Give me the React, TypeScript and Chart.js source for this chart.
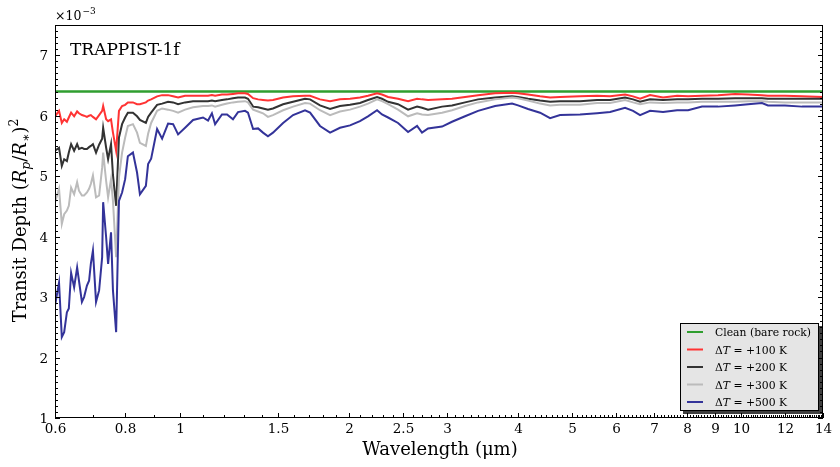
import React, { useEffect, useRef } from "react";
import { Chart, registerables } from "chart.js";

Chart.register(...registerables);

// Wavelength grid (µm)
const wavelength = [
  0.6, 0.61, 0.617, 0.623, 0.63, 0.635, 0.641, 0.649, 0.657, 0.662,
  0.67, 0.676, 0.684, 0.69, 0.695, 0.701, 0.71, 0.719, 0.728, 0.731,
  0.74, 0.746, 0.755, 0.761, 0.771, 0.78, 0.79, 0.8, 0.809, 0.826,
  0.84, 0.85, 0.871, 0.879, 0.89, 0.912, 0.931, 0.954, 0.974, 0.994,
  1.023, 1.057, 1.101, 1.124, 1.142, 1.157, 1.19, 1.215, 1.245, 1.271,
  1.308, 1.324, 1.352, 1.38, 1.408, 1.437, 1.467, 1.529, 1.593, 1.673,
  1.708, 1.779, 1.854, 1.931, 2.012, 2.096, 2.166, 2.248, 2.294, 2.352,
  2.45, 2.553, 2.649, 2.703, 2.771, 2.935, 3.057, 3.225, 3.402, 3.648,
  3.911, 4.008, 4.176, 4.387, 4.571, 4.762, 5.169, 5.542, 5.846, 6.217,
  6.424, 6.611, 6.888, 7.265, 7.695, 8.05, 8.525, 9.103, 9.761, 10.3,
  10.9, 11.17, 11.98, 12.85, 14.0,
];

// Transit depth, in units of 1e-3
const depth100K = [
  5.99, 6.08, 5.88, 5.94, 5.9, 5.97, 6.05, 5.99, 6.07, 6.04,
  6.01, 6.0, 5.98, 6.0, 6.01, 5.98, 5.94, 6.01, 6.08, 6.16,
  5.94, 5.91, 5.94, 5.72, 5.42, 6.08, 6.16, 6.18, 6.22, 6.22,
  6.19, 6.19, 6.22, 6.25, 6.27, 6.32, 6.34, 6.34, 6.32, 6.3,
  6.33, 6.33, 6.33, 6.33, 6.34, 6.33, 6.35, 6.35, 6.36, 6.37,
  6.37, 6.36, 6.29, 6.27, 6.26, 6.25, 6.26, 6.3, 6.32, 6.33,
  6.33, 6.27, 6.24, 6.27, 6.28, 6.3, 6.33, 6.37, 6.35, 6.31,
  6.28, 6.24, 6.28, 6.27, 6.26, 6.27, 6.28, 6.31, 6.34, 6.37,
  6.38, 6.37, 6.35, 6.32, 6.3, 6.31, 6.32, 6.33, 6.32, 6.35,
  6.32, 6.28, 6.34, 6.3, 6.33, 6.32, 6.33, 6.34, 6.36, 6.35,
  6.34, 6.33, 6.33, 6.32, 6.31,
];

const depth200K = [
  5.42, 5.47, 5.17, 5.28, 5.25, 5.39, 5.53, 5.42, 5.53, 5.45,
  5.47, 5.45, 5.45, 5.48, 5.5, 5.53, 5.39, 5.52, 5.62, 5.8,
  5.47, 5.28, 5.53, 5.02, 4.51, 5.64, 5.86, 5.97, 6.05, 6.05,
  5.99, 5.93, 5.88, 5.98, 6.05, 6.18, 6.2, 6.23, 6.22, 6.19,
  6.22, 6.24, 6.24, 6.24, 6.25, 6.24, 6.26, 6.27, 6.29, 6.3,
  6.3, 6.28, 6.15, 6.14, 6.12, 6.1, 6.12, 6.19, 6.23, 6.28,
  6.27, 6.17, 6.11, 6.16, 6.18, 6.21, 6.26, 6.31, 6.28, 6.23,
  6.19, 6.1, 6.15, 6.13, 6.1, 6.15, 6.17, 6.22, 6.27, 6.3,
  6.32, 6.31, 6.28, 6.25, 6.23, 6.24, 6.24, 6.26, 6.26, 6.3,
  6.27, 6.23, 6.27, 6.26, 6.27, 6.27, 6.28, 6.28, 6.29, 6.29,
  6.29, 6.28, 6.28, 6.28, 6.28,
];

const depth300K = [
  4.57, 4.79, 4.21, 4.37, 4.43, 4.51, 4.81, 4.7, 4.9, 4.76,
  4.68, 4.68, 4.73, 4.79, 4.87, 5.01, 4.65, 4.68, 5.14, 5.39,
  4.92, 4.65, 4.95, 4.59, 3.66, 4.98, 5.39, 5.64, 5.83, 5.86,
  5.72, 5.55, 5.5, 5.7, 5.88, 6.08, 6.12, 6.1, 6.08, 6.05,
  6.1, 6.14, 6.16, 6.16, 6.17, 6.15, 6.18, 6.2, 6.22, 6.23,
  6.24, 6.22, 6.1, 6.07, 6.04, 5.98, 6.01, 6.09, 6.15, 6.21,
  6.2, 6.09, 6.01, 6.07, 6.1, 6.15, 6.2, 6.27, 6.24, 6.19,
  6.1, 5.99, 6.04, 6.02, 6.01, 6.05, 6.09, 6.16, 6.22, 6.27,
  6.3, 6.29, 6.25, 6.2, 6.17, 6.18, 6.18, 6.21, 6.21, 6.26,
  6.22, 6.19, 6.22, 6.21, 6.22, 6.22, 6.23, 6.23, 6.23, 6.24,
  6.24, 6.23, 6.22, 6.22, 6.22,
];

const depth500K = [
  2.86, 3.24, 2.34, 2.42, 2.75, 2.81, 3.4, 3.16, 3.49, 3.27,
  2.92, 3.0, 3.19, 3.27, 3.55, 3.77, 2.92, 3.11, 3.66, 4.57,
  3.99, 3.55, 4.07, 3.11, 2.42, 4.59, 4.73, 4.95, 5.33, 5.39,
  5.06, 4.7, 4.84, 5.2, 5.29, 5.78, 5.62, 5.87, 5.86, 5.69,
  5.8, 5.93, 5.97, 5.92, 6.04, 5.86, 6.02, 6.02, 5.94, 6.06,
  6.08, 6.05, 5.78, 5.79, 5.72, 5.66, 5.72, 5.88, 6.01, 6.09,
  6.05, 5.83, 5.72, 5.8, 5.84, 5.91, 5.99, 6.09, 6.02, 5.97,
  5.88, 5.73, 5.83, 5.72, 5.79, 5.82, 5.9, 5.99, 6.08, 6.16,
  6.2, 6.17, 6.11, 6.05, 5.96, 6.01, 6.02, 6.04, 6.06, 6.13,
  6.08, 6.01, 6.08, 6.06, 6.09, 6.09, 6.15, 6.15, 6.17, 6.19,
  6.21, 6.17, 6.17, 6.15, 6.15,
];

const cleanWavelength = [0.6, 14.0];
const cleanDepth = [6.4, 6.4];

const xTickLabels = ["0.6", "0.8", "1", "1.5", "2", "2.5", "3", "4", "5", "6", "7", "8", "9", "10", "12", "14"];
const yTickLabels = ["1", "2", "3", "4", "5", "6", "7"];

const seriesNames = ["Clean (bare rock)", "+100 K", "+200 K", "+300 K", "+500 K"];
const seriesColors = ["#2f9e2f", "#ff3333", "#333333", "#bbbbbb", "#333399"];

const SERIF = '"DejaVu Serif", serif';

function drawSegments(ctx: CanvasRenderingContext2D, segs: { t: string; f: string; dy: number }[], x: number, y: number, align: "left" | "center") {
  let total = 0;
  for (const s of segs) {
    ctx.font = s.f;
    total += ctx.measureText(s.t).width;
  }
  let cx = align === "center" ? x - total / 2 : x;
  ctx.textAlign = "left";
  for (const s of segs) {
    ctx.font = s.f;
    ctx.fillText(s.t, cx, y + s.dy);
    cx += ctx.measureText(s.t).width;
  }
}

const decorPlugin = {
  id: "decor",
  afterDraw(chart: any) {
    const { ctx, chartArea: a, scales } = chart;
    const xs = scales.x;
    const ys = scales.y;
    const L = Math.round(a.left);
    const R = Math.round(a.right);
    const T = Math.round(a.top);
    const B = Math.round(a.bottom);
    ctx.save();
    ctx.strokeStyle = "#000";
    ctx.lineWidth = 1;
    const line = (x1: number, y1: number, x2: number, y2: number) => {
      ctx.beginPath();
      ctx.moveTo(x1, y1);
      ctx.lineTo(x2, y2);
      ctx.stroke();
    };
    // frame
    ctx.strokeRect(L + 0.5, T + 0.5, R - L - 1, B - T - 1);

    // x ticks (inward)
    const majorX = xTickLabels.map(Number);
    for (let k = 6; k <= 140; k++) {
      const v = k / 10;
      if (majorX.some((m) => Math.abs(m - v) < 1e-6)) continue;
      const px = Math.round(xs.getPixelForValue(v)) + 0.5;
      line(px, B, px, B - 3);
    }
    ctx.fillStyle = "#000";
    ctx.font = `13.5px ${SERIF}`;
    ctx.textAlign = "center";
    ctx.textBaseline = "alphabetic";
    xTickLabels.forEach((lab) => {
      const px = Math.round(xs.getPixelForValue(Number(lab))) + 0.5;
      line(px, B, px, B - 5);
      ctx.fillText(lab, px, 433);
    });

    // y ticks (inward, both sides)
    for (let k = 10; k <= 75; k++) {
      const v = k / 10;
      const py = Math.round(ys.getPixelForValue(v)) + 0.5;
      const len = k % 10 === 0 ? 5 : 3;
      line(L, py, L + len, py);
      line(R, py, R - len, py);
    }
    ctx.textAlign = "right";
    yTickLabels.forEach((lab) => {
      const py = ys.getPixelForValue(Number(lab));
      ctx.fillText(lab, 48, py + 5);
    });

    // offset text
    ctx.textAlign = "left";
    ctx.font = `12.5px ${SERIF}`;
    ctx.fillText("\u00d710", 55, 20);
    const w10 = ctx.measureText("\u00d710").width;
    ctx.font = `9px ${SERIF}`;
    ctx.fillText("\u22123", 55 + w10 + 1, 14);

    // annotation
    ctx.font = `17px ${SERIF}`;
    ctx.fillText("TRAPPIST-1f", 70, 54.5);

    // x label
    ctx.font = `18px ${SERIF}`;
    ctx.textAlign = "center";
    ctx.fillText("Wavelength (\u03bcm)", 440, 455);

    // y label (rotated)
    ctx.save();
    ctx.translate(26, 220.5);
    ctx.rotate(-Math.PI / 2);
    const nf = `18px ${SERIF}`;
    const itf = `italic 18px ${SERIF}`;
    const sf = `italic 12.5px ${SERIF}`;
    const supf = `12.5px ${SERIF}`;
    drawSegments(
      ctx,
      [
        { t: "Transit Depth ", f: nf, dy: 0 },
        { t: "(", f: nf, dy: 0 },
        { t: "R", f: itf, dy: 0 },
        { t: "p", f: sf, dy: 3.5 },
        { t: "/", f: nf, dy: 0 },
        { t: "R", f: itf, dy: 0 },
        { t: "\u2217", f: supf, dy: 3.5 },
        { t: ")", f: nf, dy: 0 },
        { t: "2", f: supf, dy: -8 },
      ],
      0,
      0,
      "center"
    );
    ctx.restore();

    // legend
    const lx = 680, ly = 323, lw = 139, lh = 88;
    ctx.fillStyle = "rgba(0,0,0,0.75)";
    ctx.fillRect(lx + 3, ly + 3, lw, lh);
    ctx.fillStyle = "#e5e5e5";
    ctx.fillRect(lx, ly, lw, lh);
    ctx.strokeStyle = "#000";
    ctx.strokeRect(lx + 0.5, ly + 0.5, lw - 1, lh - 1);
    const rows = [332, 349.5, 367, 384.5, 402];
    seriesNames.forEach((name, i) => {
      const ry = rows[i];
      ctx.strokeStyle = seriesColors[i];
      ctx.lineWidth = 2;
      line(687, ry, 703, ry);
      ctx.fillStyle = "#000";
      const f = `10.8px ${SERIF}`;
      if (i === 0) {
        drawSegments(ctx, [{ t: name, f, dy: 0 }], 715, ry + 4, "left");
      } else {
        drawSegments(
          ctx,
          [
            { t: "\u0394", f, dy: 0 },
            { t: "T", f: `italic 10.8px ${SERIF}`, dy: 0 },
            { t: " = " + name, f, dy: 0 },
          ],
          715,
          ry + 4,
          "left"
        );
      }
    });
    ctx.restore();
  },
};

export default function App() {
  const canvasRef = useRef<HTMLCanvasElement | null>(null);

  useEffect(() => {
    if (!canvasRef.current) return;
    const mk = (xs: number[], ys: number[]) => xs.map((x, i) => ({ x, y: ys[i] }));
    const chart = new Chart(canvasRef.current, {
      type: "line",
      data: {
        datasets: [
          { label: seriesNames[0], data: mk(cleanWavelength, cleanDepth), borderColor: seriesColors[0], borderWidth: 2.5, order: 5 },
          { label: seriesNames[1], data: mk(wavelength, depth100K), borderColor: seriesColors[1], borderWidth: 2, order: 4 },
          { label: seriesNames[2], data: mk(wavelength, depth200K), borderColor: seriesColors[2], borderWidth: 2, order: 3 },
          { label: seriesNames[3], data: mk(wavelength, depth300K), borderColor: seriesColors[3], borderWidth: 2, order: 2 },
          { label: seriesNames[4], data: mk(wavelength, depth500K), borderColor: seriesColors[4], borderWidth: 2, order: 1 },
        ],
      },
      options: {
        responsive: false,
        animation: false,
        layout: { padding: { left: 55, right: 17, top: 25, bottom: 49 } },
        elements: { point: { radius: 0 }, line: { tension: 0, fill: false } },
        plugins: { legend: { display: false }, tooltip: { enabled: false } },
        scales: {
          x: { type: "logarithmic", min: 0.6, max: 14, display: false },
          y: { type: "linear", min: 1, max: 7.5, display: false },
        },
      },
      plugins: [decorPlugin],
    });
    return () => chart.destroy();
  }, []);

  return (
    <div style={{ position: "fixed", left: 0, top: 0, width: 840, height: 467, background: "#fff" }}>
      <canvas ref={canvasRef} width={840} height={467} style={{ display: "block" }} />
    </div>
  );
}
